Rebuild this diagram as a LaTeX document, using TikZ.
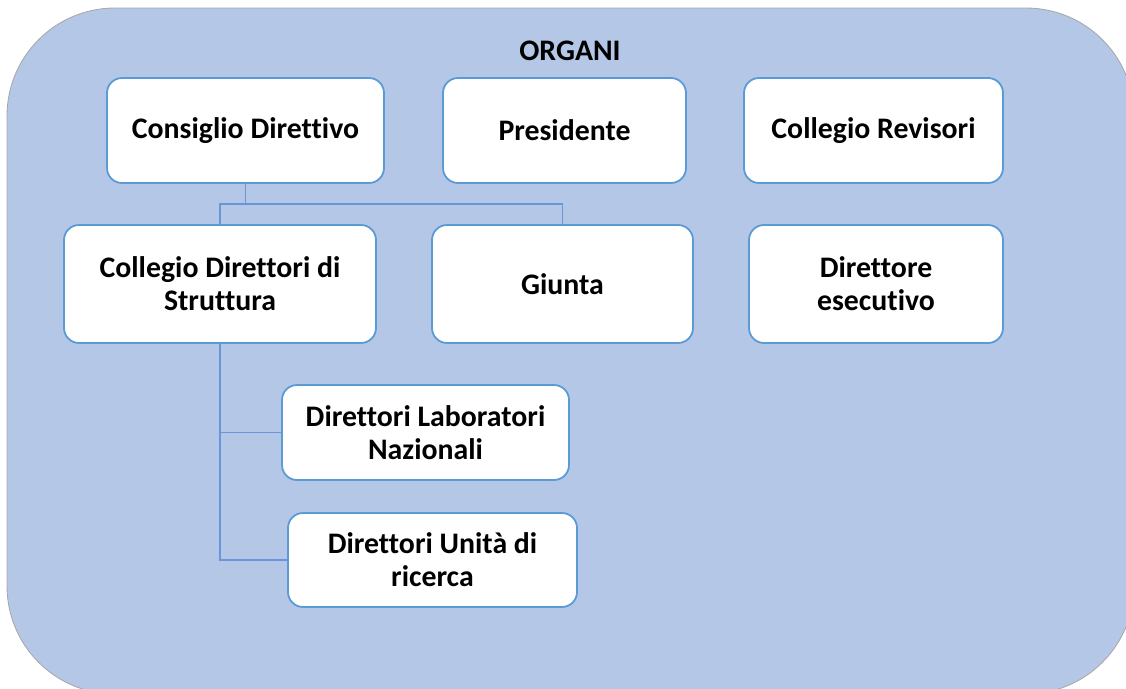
\documentclass[tikz,border=0pt]{standalone}
\usepackage{fontspec}
\setmainfont{Carlito}[Ligatures=NoCommon]
\definecolor{bgfill}{HTML}{B4C7E7}
\definecolor{bgline}{HTML}{A6A6A6}
\definecolor{boxline}{HTML}{5B9BD5}
\definecolor{conn}{HTML}{6A95D6}
\begin{document}
\begin{tikzpicture}[x=1pt,y=-1pt,
  orgbox/.style={draw=boxline, line width=1.8pt, fill=white, rounded corners=15pt,
    inner sep=0pt, align=center, font=\fontsize{29.8}{33}\selectfont\bfseries},
  link/.style={draw=conn, line width=1.3pt}]
\useasboundingbox (0,0) rectangle (1126,688);
\begin{scope}
\clip (0,0) rectangle (1126,688);
\draw[fill=bgfill, draw=bgline, line width=0.8pt, rounded corners=108pt] (7,8) rectangle (1134,694);
\end{scope}
\node[font=\fontsize{29.8}{33}\selectfont\bfseries] (title) at (570,51) {ORGANI};
\node[orgbox, minimum width=277pt, minimum height=105pt] (cd) at (245.5,130.5) {Consiglio Direttivo};
\node[orgbox, minimum width=243pt, minimum height=105pt] (pres) at (564.5,130.5) {Presidente};
\node[orgbox, minimum width=259pt, minimum height=105pt] (rev) at (873.5,130.5) {Collegio Revisori};
\node[orgbox, minimum width=312pt, minimum height=118pt] (cds) at (220,284) {Collegio Direttori di\\Struttura};
\node[orgbox, minimum width=261pt, minimum height=118pt] (giunta) at (562.5,284) {Giunta};
\node[orgbox, minimum width=254pt, minimum height=118pt] (de) at (876,284) {Direttore\\esecutivo};
\node[orgbox, minimum width=287pt, minimum height=95pt] (lab) at (425.5,432.5) {Direttori Laboratori\\Nazionali};
\node[orgbox, minimum width=289pt, minimum height=94pt] (ur) at (432.5,560) {Direttori Unità di\\ricerca};
\coordinate (bus) at (0,204);
\draw[link] (cd.south) -- (cd.south |- bus);
\draw[link] (cds.north) -- (cds.north |- bus) -| (giunta.north);
\draw[link] (cds.south) |- (ur.west);
\draw[link] (cds.south |- lab.west) -- (lab.west);
\end{tikzpicture}
\end{document}
